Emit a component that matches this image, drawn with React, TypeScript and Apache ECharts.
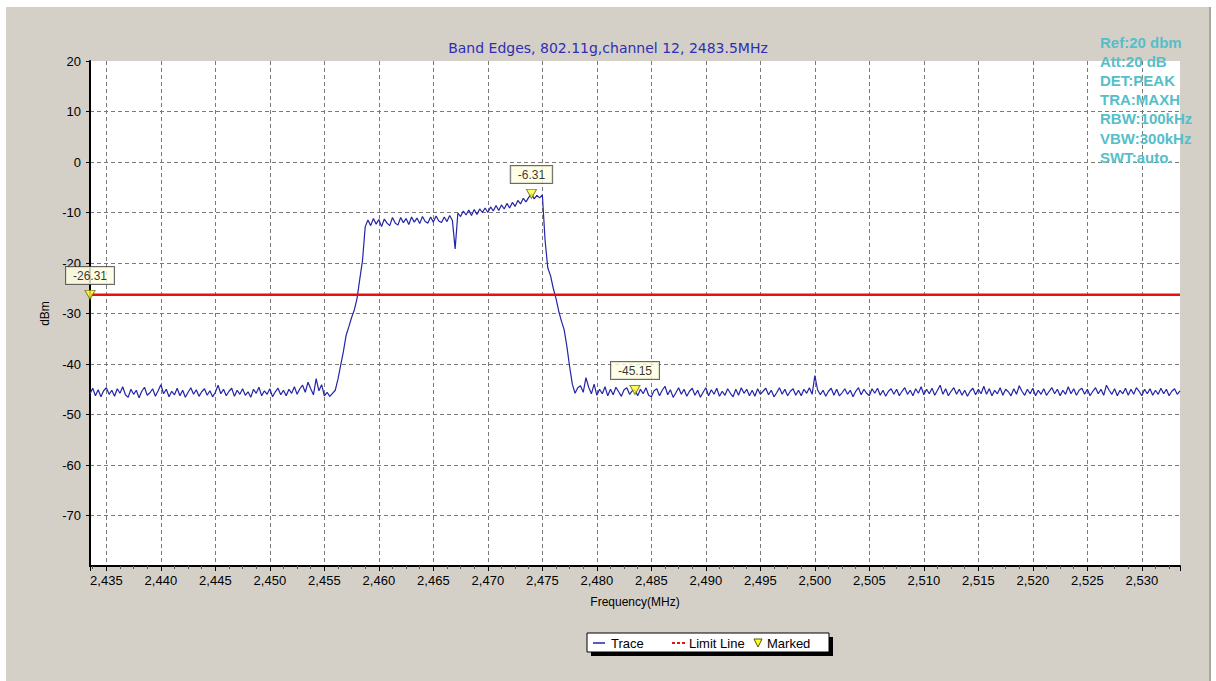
import React, { useEffect, useRef } from "react";
import * as echarts from "echarts";

const FONT = "'Liberation Sans', Arial, sans-serif";
const TITLE_FONT = "'DejaVu Sans', Verdana, sans-serif";

// Sweep: 2433.5 MHz .. 2533.5 MHz, 0.25 MHz per trace point
const FREQ_START = 2433.5;
const FREQ_STOP = 2533.5;
const FREQ_STEP = 0.25;

// trace levels (dBm)
const noiseLeft = [
  -45.9, -44.8, -46.3, -45.1, -46.5, -45.3, -44.7, -46.0, -45.2, -46.4,
  -44.9, -45.8, -44.5, -46.1, -46.6, -45.0, -46.0, -45.2, -46.7, -45.4,
  -44.6, -46.2, -45.7, -44.9, -46.4, -45.3, -44.1, -45.9, -45.0, -46.5,
  -45.4, -46.1, -44.8, -46.3, -45.2, -46.6, -45.6, -44.7, -46.0, -45.1,
  -46.4, -45.5, -44.9, -46.2, -45.3, -46.5, -45.6, -44.2, -45.9, -45.0,
  -46.3, -45.4, -44.8, -46.4, -45.2, -46.0, -44.9, -46.2, -45.5, -46.6,
  -45.0, -45.8, -44.6, -46.3, -45.3, -46.0, -44.9, -46.5, -45.5, -44.8,
  -46.1, -45.2, -46.3, -45.0, -45.8, -44.5, -46.0, -44.9, -44.2, -45.6,
  -43.6, -44.9, -46.1, -42.9, -45.3, -44.1, -46.3, -45.6, -46.4, -45.8,
];
const riseEdge = [
  -45.2, -43.0, -40.2, -37.5, -34.3, -32.6, -30.8, -29.3, -27.0, -23.2, -19.5, -12.8,
];
const channelTop = [
  -11.5, -12.6, -11.2, -12.3, -11.4, -12.8, -11.3, -12.1, -12.6,
  -11.0, -12.1, -12.5, -11.0, -12.0, -11.2, -12.4, -10.9, -11.9, -11.1,
  -12.2, -10.8, -11.8, -12.1, -10.9, -11.9, -10.7, -11.7, -12.0, -10.9,
  -11.8, -10.6, -11.6, -17.2,
  -10.1, -10.8, -9.7, -10.5, -9.5, -10.6, -9.4, -10.4, -9.3, -10.0,
  -9.1, -10.0, -8.9, -9.7, -8.6, -9.6, -8.5, -9.3, -8.2, -9.1,
  -8.0, -8.8, -7.6, -8.3, -7.2, -7.9, -7.0, -6.31, -7.3, -6.6,
  -7.1, -6.5,
];
const fallEdge = [
  -15.5, -21.0, -22.5, -25.0, -27.0, -29.5, -31.5, -33.2, -36.5, -40.5, -44.0,
];
const noiseRight = [
  -45.8, -44.7, -44.3, -45.6, -42.7, -44.6, -45.9, -44.0, -46.2, -45.0,
  -45.9, -44.5, -46.3, -45.0, -46.1, -44.6, -45.5, -46.4, -45.1, -44.7,
  -46.0, -45.3, -45.15, -46.3, -45.0, -45.9, -44.7, -46.2, -46.5, -45.3,
  -44.9, -46.3, -45.2, -44.4, -46.1, -45.1, -46.6, -45.7, -44.7, -46.0,
  -45.0, -46.4, -45.4, -44.8, -46.2, -45.2, -46.6, -45.6, -44.7, -46.3,
  -45.1, -46.0, -44.8, -46.4, -45.4, -46.2, -44.9, -45.8, -46.5, -45.0,
  -46.2, -44.7, -45.8, -45.0, -46.3, -45.2, -46.4, -44.9, -46.0, -45.4,
  -44.8, -46.1, -45.2, -46.5, -45.7, -44.7, -46.0, -45.0, -46.3, -45.4,
  -44.9, -46.2, -45.2, -46.3, -45.0, -45.8, -44.7, -46.0, -42.3, -45.1,
  -46.1, -45.2, -46.4, -45.4, -44.8, -46.2, -45.0, -46.3, -45.7, -44.9,
  -46.0, -45.2, -46.5, -45.4, -44.7, -46.1, -45.0, -45.8, -46.3, -44.9,
  -45.8, -44.8, -46.2, -45.2, -46.4, -45.4, -44.9, -46.0, -45.0, -46.3,
  -45.4, -44.7, -46.0, -45.2, -46.3, -44.9, -45.8, -44.5, -46.1, -45.0,
  -45.9, -44.8, -46.2, -45.2, -44.2, -46.0, -44.9, -46.3, -45.4, -44.7,
  -46.0, -45.0, -46.2, -45.2, -46.4, -45.4, -44.8, -46.1, -45.0, -45.9,
  -44.4, -46.0, -44.9, -46.3, -45.2, -45.9, -44.7, -46.2, -45.0, -45.5,
  -46.3, -44.9, -46.0, -44.3, -45.4, -46.2, -45.0, -45.9, -44.8, -46.3,
  -45.2, -46.0, -44.9, -46.2, -45.4, -44.7, -45.9, -45.0, -46.3, -45.2,
  -46.0, -44.5, -45.9, -44.9, -46.2, -45.2, -44.8, -46.0, -45.0, -46.3,
  -45.4, -44.7, -45.9, -45.0, -46.2, -44.2, -45.2, -46.0, -44.9, -46.3,
  -45.2, -45.9, -44.8, -46.2, -45.0, -46.0, -44.7, -45.4, -46.3, -45.0,
  -45.9, -44.9, -46.2, -45.2, -46.0, -44.8, -45.9, -45.0, -46.3, -45.4,
  -44.9, -46.0, -45.3,
];

const traceLevels = [...noiseLeft, ...riseEdge, ...channelTop, ...fallEdge, ...noiseRight];

// markers
const markerFreqs = [2433.5, 2474.0, 2483.5];
const markerLevels = [-26.31, -6.31, -45.15];

// limit line
const limitLevel = -26.31;

const titleText = "Band Edges, 802.11g,channel 12, 2483.5MHz";
const infoLines = [
  "Ref:20 dbm",
  "Att:20 dB",
  "DET:PEAK",
  "TRA:MAXH",
  "RBW:100kHz",
  "VBW:300kHz",
  "SWT:auto.",
];
const legendNames = ["Trace", "Limit Line", "Marked"];

const TRACE_COLOR = "#2424a8";
const LIMIT_COLOR = "#e81010";

export default function App() {
  const ref = useRef<HTMLDivElement>(null);

  useEffect(() => {
    if (!ref.current) return;
    const chart = echarts.init(ref.current, null, { renderer: "svg" });

    const traceData = traceLevels.map((v, i) => [FREQ_START + i * FREQ_STEP, v]);
    const markerData = markerFreqs.map((f, i) => [f, markerLevels[i]]);

    const gridLine = { color: "#7a7a7a", width: 1, type: [4, 3] as number[] };

    const graphics: any[] = [
      { type: "rect", shape: { x: 0, y: 0, width: 6, height: 681 }, style: { fill: "#ffffff" }, silent: true },
      { type: "rect", shape: { x: 0, y: 0, width: 1216, height: 7 }, style: { fill: "#ffffff" }, silent: true },
      { type: "rect", shape: { x: 1209, y: 7, width: 2, height: 674 }, style: { fill: "#aaa69e" }, silent: true },
      { type: "rect", shape: { x: 1211, y: 0, width: 5, height: 681 }, style: { fill: "#ffffff" }, silent: true },
    ];

    infoLines.forEach((t, i) => {
      graphics.push({
        type: "text",
        x: 1100,
        y: 42 + i * 19.2,
        z: 10,
        style: {
          text: t,
          fill: "#56bec8",
          font: `bold 15px ${FONT}`,
          verticalAlign: "middle",
        },
      });
    });

    // legend box
    const lx = 587;
    const ly = 633;
    graphics.push(
      { type: "rect", z: 10, shape: { x: lx + 4, y: ly + 4, width: 242, height: 19 }, style: { fill: "#000000" } },
      { type: "rect", z: 11, shape: { x: lx, y: ly, width: 242, height: 19 }, style: { fill: "#ffffff", stroke: "#000000", lineWidth: 1 } },
      { type: "line", z: 12, shape: { x1: lx + 6, y1: ly + 10, x2: lx + 18, y2: ly + 10 }, style: { stroke: TRACE_COLOR, lineWidth: 1.5 } },
      { type: "text", z: 12, x: lx + 24, y: ly + 10, style: { text: legendNames[0], fill: "#000", font: `13px ${FONT}`, verticalAlign: "middle" } },
      { type: "line", z: 12, shape: { x1: lx + 85, y1: ly + 10, x2: lx + 98, y2: ly + 10 }, style: { stroke: LIMIT_COLOR, lineWidth: 2, lineDash: [3, 2] } },
      { type: "text", z: 12, x: lx + 102, y: ly + 10, style: { text: legendNames[1], fill: "#000", font: `13px ${FONT}`, verticalAlign: "middle" } },
      { type: "polygon", z: 12, shape: { points: [[lx + 167, ly + 6], [lx + 175, ly + 6], [lx + 171, ly + 14]] }, style: { fill: "#ffff33", stroke: "#555500", lineWidth: 1 } },
      { type: "text", z: 12, x: lx + 180, y: ly + 10, style: { text: legendNames[2], fill: "#000", font: `13px ${FONT}`, verticalAlign: "middle" } }
    );

    chart.setOption({
      animation: false,
      backgroundColor: "#d4d0c8",
      textStyle: { fontFamily: FONT },
      title: {
        text: titleText,
        left: "center",
        top: 36,
        textStyle: { color: "#2e2eb4", fontSize: 14, fontWeight: "normal", fontFamily: TITLE_FONT },
      },
      grid: {
        left: 90,
        top: 61,
        right: 36,
        bottom: 115,
        show: true,
        backgroundColor: "#ffffff",
        borderWidth: 0,
      },
      xAxis: {
        type: "value",
        min: FREQ_START,
        max: FREQ_STOP,
        splitNumber: 20,
        name: "Frequency(MHz)",
        nameLocation: "middle",
        nameGap: 30,
        nameTextStyle: { color: "#000", fontSize: 12, fontFamily: FONT },
        axisLine: { show: true, onZero: false, lineStyle: { color: "#000", width: 2 } },
        axisTick: { show: true, length: 5, lineStyle: { color: "#000" } },
        minorTick: { show: true, splitNumber: 4, length: 3, lineStyle: { color: "#555" } },
        axisLabel: {
          showMinLabel: false,
          showMaxLabel: false,
          margin: 8,
          color: "#000",
          fontSize: 13,
          fontFamily: FONT,
          formatter: (v: number) => v.toLocaleString("en-US"),
        },
        splitLine: { show: true, showMinLine: false, showMaxLine: false, lineStyle: gridLine },
      },
      yAxis: {
        type: "value",
        min: -80,
        max: 20,
        interval: 10,
        name: "dBm",
        nameLocation: "middle",
        nameGap: 32,
        nameRotate: 90,
        nameTextStyle: { color: "#000", fontSize: 12, fontFamily: FONT },
        axisLine: { show: true, onZero: false, lineStyle: { color: "#000", width: 2 } },
        axisTick: { show: true, length: 4, lineStyle: { color: "#000" } },
        axisLabel: { showMinLabel: false, margin: 9, color: "#000", fontSize: 13, fontFamily: FONT },
        splitLine: { show: true, showMinLine: false, showMaxLine: false, lineStyle: gridLine },
      },
      series: [
        {
          name: legendNames[0],
          type: "line",
          data: traceData,
          showSymbol: false,
          symbol: "none",
          lineStyle: { color: TRACE_COLOR, width: 1.2 },
          z: 3,
        },
        {
          name: legendNames[1],
          type: "line",
          data: [
            [FREQ_START, limitLevel],
            [FREQ_STOP, limitLevel],
          ],
          symbol: "none",
          lineStyle: { color: LIMIT_COLOR, width: 2.5 },
          z: 4,
        },
        {
          name: legendNames[2],
          type: "scatter",
          data: markerData,
          clip: false,
          symbol: "triangle",
          symbolRotate: 180,
          symbolSize: [10, 9],
          itemStyle: { color: "#ffff33", borderColor: "#6a6a00", borderWidth: 1 },
          label: {
            show: true,
            position: "top",
            distance: 6,
            formatter: (p: any) => p.value[1].toFixed(2),
            color: "#000",
            fontSize: 12,
            fontFamily: FONT,
            backgroundColor: "#ffffe1",
            borderColor: "#444",
            borderWidth: 1,
            padding: [3, 7, 2, 7],
          },
          z: 5,
        },
      ],
      graphic: graphics,
    });

    return () => chart.dispose();
  }, []);

  return (
    <div
      ref={ref}
      style={{ position: "fixed", left: 0, top: 0, width: 1216, height: 681 }}
    />
  );
}
